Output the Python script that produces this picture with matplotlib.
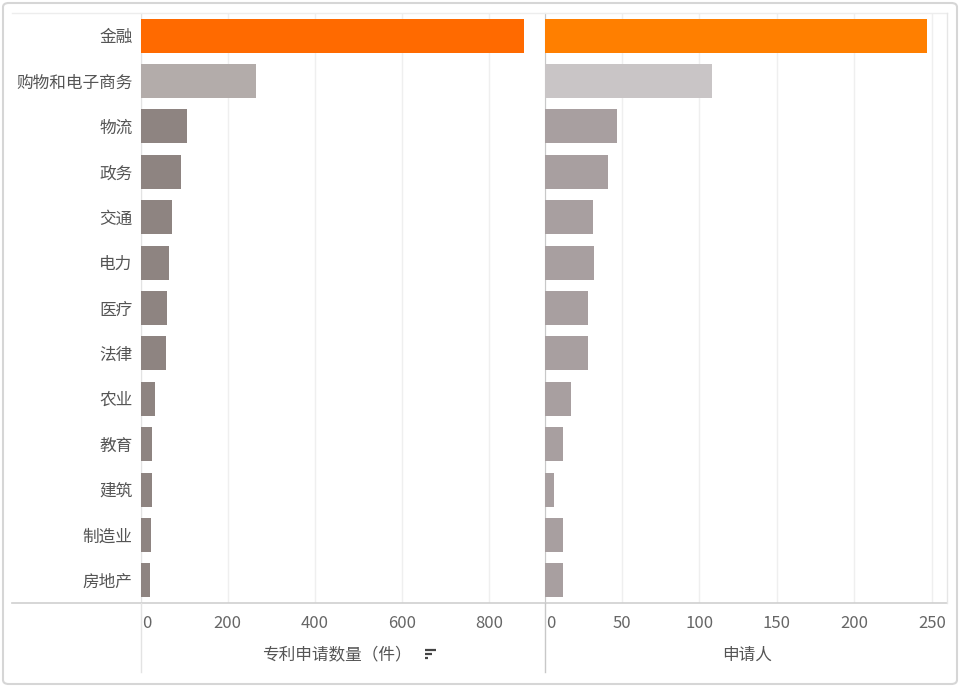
import matplotlib
matplotlib.use("Agg")
import matplotlib.pyplot as plt
from matplotlib.lines import Line2D
from matplotlib.patches import FancyBboxPatch

plt.rcParams['font.family'] = ['Noto Sans CJK SC', 'DejaVu Sans']

categories = ["金融", "购物和电子商务", "物流", "政务", "交通", "电力", "医疗",
              "法律", "农业", "教育", "建筑", "制造业", "房地产"]
patents = [881, 266, 107, 93, 73, 66, 61, 58, 32, 27, 26, 24, 22]
applicants = [247, 108, 47, 41, 31, 32, 28, 28, 17, 12, 6, 12, 12]
patent_ticks = [0, 200, 400, 600, 800]
applicant_ticks = [0, 50, 100, 150, 200, 250]
patent_colors = ['#FF6A00', '#B3ACAA'] + ['#8E8481'] * 11
applicant_colors = ['#FF7F00', '#C9C5C6'] + ['#A89FA0'] * 11
xlabel_left = "专利申请数量（件）"
xlabel_right = "申请人"

W, H = 960, 687
fig = plt.figure(figsize=(W / 100, H / 100), dpi=100)

def fx(px):
    return px / W

def fy(py):
    return 1 - py / H

top, bottom = 13, 603
ax1 = fig.add_axes([fx(140.6), fy(bottom), fx(402.4), (bottom - top) / H])
ax2 = fig.add_axes([fx(544.5), fy(bottom), fx(402.2), (bottom - top) / H])

txt = '#555555'
ypos = list(range(len(categories)))
for ax, vals, cols, ticks, xmax in [(ax1, patents, patent_colors, patent_ticks, 924),
                                    (ax2, applicants, applicant_colors, applicant_ticks, 259.5)]:
    ax.barh(ypos, vals, height=0.75, color=cols, zorder=3)
    ax.set_xlim(0, xmax)
    ax.set_ylim(len(categories) - 0.5, -0.5)
    ax.set_xticks(ticks)
    ax.set_xticklabels([str(t) for t in ticks])
    ax.tick_params(axis='x', length=0, pad=9, labelsize=12, labelcolor='#666666')
    ax.grid(axis='x', color='#EFEFEF', linewidth=1, zorder=0)
    for s in ['top', 'right', 'bottom']:
        ax.spines[s].set_visible(False)
    lab = ax.get_xticklabels()[0]
    lab.set_horizontalalignment('left')
    lab.set_x(0)

from matplotlib.transforms import offset_copy
for ax in (ax1, ax2):
    lab = ax.get_xticklabels()[0]
    lab.set_transform(lab.get_transform() + matplotlib.transforms.ScaledTranslation(2/100, 0, fig.dpi_scale_trans))

ax1.set_yticks(ypos)
ax1.set_yticklabels(categories)
ax1.tick_params(axis='y', length=0, pad=6, labelsize=12, labelcolor=txt)
ax2.set_yticks([])
ax1.spines['left'].set_color('#E3E3E3')
ax2.spines['left'].set_color('#C8C8C8')

# axis titles
fig.text(fx(337), fy(655), xlabel_left, ha='center', va='center', fontsize=12, color=txt)
fig.text(fx(747), fy(655), xlabel_right, ha='center', va='center', fontsize=12, color=txt)

# sort icon
for i, L in enumerate([11, 7, 3]):
    yy = fy(650 + i * 4)
    fig.add_artist(Line2D([fx(425), fx(425 + L)], [yy, yy], color='#444444', lw=1.6,
                          solid_capstyle='butt'))

# frame lines
fig.add_artist(Line2D([fx(12), fx(947)], [fy(bottom), fy(bottom)], color='#CFCFCF', lw=1.2))
fig.add_artist(Line2D([fx(12), fx(947)], [fy(top), fy(top)], color='#EDEDED', lw=1))
fig.add_artist(Line2D([fx(947), fx(947)], [fy(top), fy(bottom)], color='#E6E6E6', lw=1))
fig.add_artist(Line2D([fx(140.6), fx(140.6)], [fy(bottom), fy(672)], color='#E3E3E3', lw=1))
fig.add_artist(Line2D([fx(544.5), fx(544.5)], [fy(bottom), fy(672)], color='#C8C8C8', lw=1))

# outer rounded border
fig.add_artist(FancyBboxPatch((fx(3), fy(684)), fx(954), (681) / H,
                              boxstyle="round,pad=0,rounding_size=0.006",
                              transform=fig.transFigure, fill=False,
                              edgecolor='#D6D6D6', lw=1.5))

fig.savefig("out.png", dpi=100, facecolor='white')
